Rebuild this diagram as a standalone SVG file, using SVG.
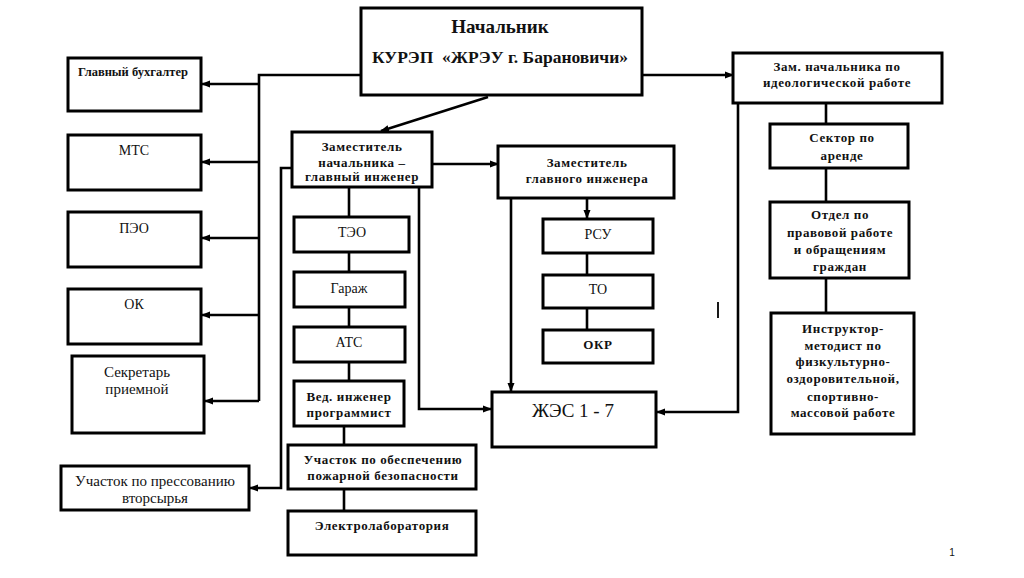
<svg xmlns="http://www.w3.org/2000/svg" width="1024" height="578" viewBox="0 0 1024 578">
<defs>
<marker id="ah" markerUnits="userSpaceOnUse" markerWidth="9" markerHeight="8" refX="8" refY="4" orient="auto">
<path d="M0,0.5 L9,4 L0,7.5 Z" fill="#000"/>
</marker>
<style>
.box{fill:#fff;stroke:#000;stroke-width:3}
.ln{fill:none;stroke:#000;stroke-width:2.6}
.ar{fill:none;stroke:#000;stroke-width:2.6;marker-end:url(#ah)}
text{fill:#111;text-anchor:middle;font-family:Liberation Serif, DejaVu Serif, serif}
.b{font-weight:bold;font-size:13px;letter-spacing:0.6px}
.n{font-size:14px}
.m{font-size:15px}
</style>
</defs>
<rect width="1024" height="578" fill="#fff"/>

<g id="connectors">
<polyline class="ln" points="360,75 259,75 259,401"/>
<line class="ar" x1="259" y1="84" x2="202" y2="84"/>
<line class="ar" x1="259" y1="162" x2="202" y2="162"/>
<line class="ar" x1="259" y1="238" x2="202" y2="238"/>
<line class="ar" x1="259" y1="315" x2="202" y2="315"/>
<line class="ar" x1="259" y1="401" x2="205" y2="401"/>
<line class="ar" x1="642" y1="75" x2="733" y2="75"/>
<line class="ar" x1="488" y1="97" x2="381" y2="131"/>
<line class="ar" x1="432" y1="164" x2="498" y2="164"/>
<polyline class="ar" points="292,168 281,168 281,488 250,488"/>
<line class="ln" x1="349" y1="187" x2="349" y2="217"/>
<line class="ln" x1="349" y1="252" x2="349" y2="272"/>
<line class="ln" x1="349" y1="307" x2="349" y2="327"/>
<line class="ln" x1="349" y1="362" x2="349" y2="381"/>
<line class="ln" x1="344" y1="426" x2="344" y2="445"/>
<line class="ln" x1="344" y1="489" x2="344" y2="511"/>
<polyline class="ar" points="419,187 419,409 491,409"/>
<line class="ar" x1="511" y1="198" x2="511" y2="391"/>
<line class="ar" x1="587" y1="198" x2="587" y2="218"/>
<line class="ln" x1="587" y1="253" x2="587" y2="275"/>
<line class="ln" x1="587" y1="308" x2="587" y2="330"/>
<polyline class="ar" points="738,103 738,412 657,412"/>
<line class="ln" x1="826" y1="103" x2="826" y2="124"/>
<line class="ln" x1="826" y1="168" x2="826" y2="202"/>
<line class="ln" x1="826" y1="278" x2="826" y2="313"/>
</g>

<line x1="718" y1="302" x2="718" y2="318" stroke="#000" stroke-width="1.8"/>

<g id="nachalnik">
<rect class="box" x="361" y="8" width="281" height="87"/>
<text x="500" y="33" font-size="19" font-weight="bold">Начальник</text>
<text x="500" y="63" font-size="17.5" font-weight="bold" xml:space="preserve">КУРЭП  «ЖРЭУ г. Барановичи»</text>
</g>

<g id="glavbuh">
<rect class="box" x="68" y="58" width="133" height="53"/>
<text x="133" y="76" font-size="12.5" font-weight="bold">Главный бухгалтер</text>
</g>
<g id="mts">
<rect class="box" x="68" y="135" width="133" height="55"/>
<text class="n" x="134" y="155">МТС</text>
</g>
<g id="peo">
<rect class="box" x="68" y="212" width="133" height="55"/>
<text class="n" x="134" y="233">ПЭО</text>
</g>
<g id="ok">
<rect class="box" x="68" y="289" width="133" height="55"/>
<text class="n" x="134" y="309">ОК</text>
</g>
<g id="sekretar">
<rect class="box" x="72" y="356" width="132" height="77"/>
<text class="m" x="137" y="377">Секретарь</text>
<text class="m" x="137" y="394">приемной</text>
</g>
<g id="pressovanie">
<rect class="box" x="61" y="466" width="188" height="44"/>
<text class="m" x="155" y="486">Участок по прессованию</text>
<text class="m" x="155" y="503">вторсырья</text>
</g>

<g id="zam-glav-inzh">
<rect class="box" x="292" y="132" width="140" height="55"/>
<text class="b" x="362" y="151">Заместитель</text>
<text class="b" x="362" y="167">начальника –</text>
<text class="b" x="362" y="181">главный инженер</text>
</g>
<g id="teo">
<rect class="box" x="294" y="217" width="115" height="35"/>
<text class="n" x="352" y="237">ТЭО</text>
</g>
<g id="garazh">
<rect class="box" x="294" y="272" width="111" height="35"/>
<text class="n" x="349" y="293">Гараж</text>
</g>
<g id="ats">
<rect class="box" x="294" y="327" width="111" height="35"/>
<text class="n" x="349" y="347">АТС</text>
</g>
<g id="ved-inzh">
<rect class="box" x="294" y="381" width="110" height="45"/>
<text class="b" x="349" y="401">Вед. инженер</text>
<text class="b" x="349" y="417">программист</text>
</g>
<g id="pozhar">
<rect class="box" x="288" y="445" width="188" height="44"/>
<text class="b" x="383" y="464" letter-spacing="0.9">Участок по обеспечению</text>
<text class="b" x="383" y="480" letter-spacing="0.9">пожарной безопасности</text>
</g>
<g id="elektrolab">
<rect class="box" x="288" y="511" width="188" height="44"/>
<text class="b" x="382" y="530" letter-spacing="1">Электролаборатория</text>
</g>

<g id="zam-glavnogo">
<rect class="box" x="498" y="146" width="176" height="52"/>
<text class="b" x="587" y="167" letter-spacing="1">Заместитель</text>
<text class="b" x="587" y="183" letter-spacing="1">главного инженера</text>
</g>
<g id="rsu">
<rect class="box" x="543" y="219" width="110" height="34"/>
<text class="n" x="598" y="239">РСУ</text>
</g>
<g id="to">
<rect class="box" x="543" y="275" width="110" height="33"/>
<text class="n" x="598" y="294">ТО</text>
</g>
<g id="okr">
<rect class="box" x="543" y="330" width="110" height="33"/>
<text class="b" x="598" y="349">ОКР</text>
</g>
<g id="zhes">
<rect class="box" x="492" y="392" width="164" height="55"/>
<text x="573" y="417" font-size="19">ЖЭС 1 - 7</text>
</g>

<g id="zam-ideolog">
<rect class="box" x="733" y="53" width="209" height="50"/>
<text class="b" x="837" y="71">Зам. начальника по</text>
<text class="b" x="837" y="87">идеологической работе</text>
</g>
<g id="arenda">
<rect class="box" x="770" y="124" width="138" height="44"/>
<text class="b" x="842" y="142">Сектор по</text>
<text class="b" x="842" y="160">аренде</text>
</g>
<g id="pravo">
<rect class="box" x="770" y="202" width="139" height="76"/>
<text class="b" x="840" y="219">Отдел по</text>
<text class="b" x="840" y="237">правовой работе</text>
<text class="b" x="840" y="254">и обращениям</text>
<text class="b" x="840" y="271">граждан</text>
</g>
<g id="instruktor">
<rect class="box" x="771" y="313" width="143" height="121"/>
<text class="b" x="843" y="333" letter-spacing="0.3">Инструктор-</text>
<text class="b" x="843" y="350" letter-spacing="0.3">методист по</text>
<text class="b" x="843" y="366" letter-spacing="0.3">физкультурно-</text>
<text class="b" x="843" y="383" letter-spacing="0.3">оздоровительной,</text>
<text class="b" x="843" y="401" letter-spacing="0.3">спортивно-</text>
<text class="b" x="843" y="417" letter-spacing="0.3">массовой работе</text>
</g>

<text x="952" y="556" font-size="10" fill="#888" style="font-family:Liberation Sans, sans-serif">1</text>
</svg>
